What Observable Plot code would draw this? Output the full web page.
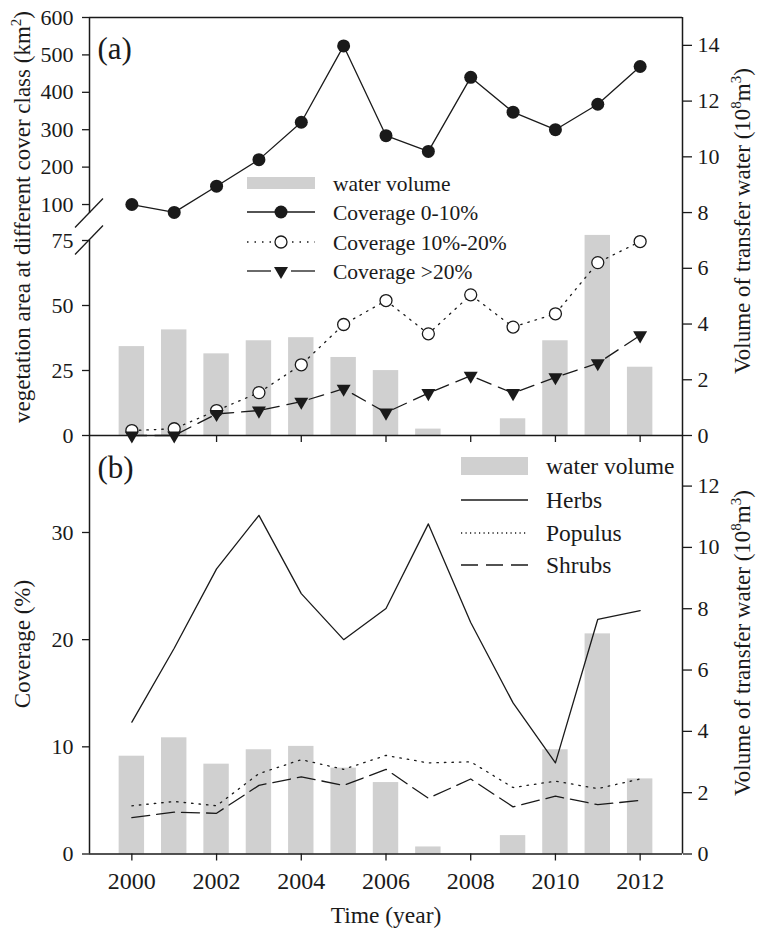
<!DOCTYPE html>
<html>
<head>
<meta charset="utf-8">
<script src="https://cdn.jsdelivr.net/npm/d3@7"></script>
<script src="https://cdn.jsdelivr.net/npm/@observablehq/plot@0.6"></script>
<style>
  html, body { margin: 0; padding: 0; background: #fff; }
  #chart { position: relative; width: 775px; height: 931px; background: #fff; }
  #chart > svg { position: absolute; left: 0; top: 0; }
</style>
</head>
<body>
<div id="chart"></div>
<script>
// ---------- data ----------
const years = [2000, 2001, 2002, 2003, 2004, 2005, 2006, 2007, 2008, 2009, 2010, 2011, 2012];
// volume of transfer water (10^8 m^3)
const waterVolume = [3.19, 3.79, 2.93, 3.40, 3.51, 2.80, 2.33, 0.23, 0, 0.60, 3.40, 7.18, 2.45];
// panel (a): vegetation area at different cover class (km^2)
const coverage0to10 = [100, 79, 149, 220, 320, 524, 284, 242, 440, 347, 300, 368, 469];
const coverage10to20 = [1.9, 2.6, 9.6, 16.5, 27.2, 42.7, 51.9, 39.1, 54.1, 41.7, 46.8, 66.5, 74.6];
const coverageOver20 = [0, 0, 8.3, 9.6, 13.0, 18.0, 8.8, 16.3, 23.0, 16.3, 22.4, 27.8, 38.5];
// panel (b): coverage (%)
const herbs = [12.3, 19.2, 26.6, 31.6, 24.3, 20.0, 22.9, 30.8, 21.6, 14.1, 8.5, 21.9, 22.7];
const populus = [4.5, 4.9, 4.5, 7.5, 8.8, 7.9, 9.2, 8.5, 8.6, 6.2, 6.8, 6.1, 7.0];
const shrubs = [3.4, 3.9, 3.8, 6.4, 7.2, 6.4, 7.9, 5.2, 7.0, 4.4, 5.4, 4.6, 5.0];

// ticks
const xTicks = [2000, 2002, 2004, 2006, 2008, 2010, 2012];
const leftTicksA = [0, 25, 50, 75, 100, 200, 300, 400, 500, 600];
const rightTicksA = [0, 2, 4, 6, 8, 10, 12, 14];
const leftTicksB = [0, 10, 20, 30];
const rightTicksB = [0, 2, 4, 6, 8, 10, 12];

// labels
const legendA = ["water volume", "Coverage 0-10%", "Coverage 10%-20%", "Coverage >20%"];
const legendB = ["water volume", "Herbs", "Populus", "Shrubs"];

// ---------- style ----------
const FONT = '"Liberation Serif", "Times New Roman", Times, serif';
const INK = "#1a1a1a";
const BAR = "#d0d0d0";
const W = 775, H = 931;
const LW = 1.3;

const rows = years.map((year, i) => ({
  year,
  water: waterVolume[i],
  c1: coverage0to10[i],
  c2: coverage10to20[i],
  c3: coverageOver20[i],
  herbs: herbs[i],
  populus: populus[i],
  shrubs: shrubs[i]
}));

const base = {
  width: W, height: H, marginLeft: 89, marginRight: 93,
  style: {background: "transparent", fontFamily: FONT, color: INK, overflow: "visible"}
};
const xScale = {domain: [1999, 2013], axis: null};
const halfBar = 0.3;
const fmt = d3.format("d");

// axis break marks drawn with the y scale at the break boundaries
function breakMarks(index, scales) {
  const g = d3.create("svg:g").attr("stroke", INK).attr("stroke-width", LW);
  const x0 = scales.x(1999);
  for (const v of [75, 76]) {
    const y0 = scales.y(v);
    g.append("line").attr("x1", x0 - 14).attr("y1", y0 + 14.5).attr("x2", x0 + 14).attr("y2", y0 - 14.5);
  }
  return g.node();
}

// ---------- panel (a) bars + right axis ----------
const aBars = Plot.plot({
  ...base, marginTop: 17, marginBottom: 496,
  x: xScale, y: {domain: [0, 15], axis: null},
  marks: [
    Plot.rect(rows, {x1: d => d.year - halfBar, x2: d => d.year + halfBar, y1: 0, y2: "water", fill: BAR}),
    Plot.ruleX([2013], {stroke: INK, strokeWidth: 1.5}),
    Plot.axisY({anchor: "right", ticks: rightTicksA, tickSize: 9, tickPadding: 6, fontSize: 22, label: null, tickFormat: fmt, strokeWidth: 1.3})
  ]
});

// ---------- panel (a) lines + left broken axis ----------
const aLines = Plot.plot({
  ...base, marginTop: 17, marginBottom: 496,
  x: xScale,
  y: {type: "linear", domain: [0, 75, 76, 600], range: [435, 240, 213, 17], axis: null},
  marks: [
    Plot.ruleY([600], {stroke: INK, strokeWidth: 1.5}),
    Plot.ruleY([0], {stroke: INK, strokeWidth: 1.5}),
    Plot.ruleX([{from: 0, to: 75}, {from: 76, to: 600}], {x: 1999, y1: "from", y2: "to", stroke: INK, strokeWidth: 1.5}),
    breakMarks,
    Plot.axisY({anchor: "left", ticks: leftTicksA, tickSize: 7, tickPadding: 9, fontSize: 22, label: null, tickFormat: fmt, strokeWidth: 1.3}),
    Plot.axisX({anchor: "bottom", ticks: xTicks, tickSize: 7, tickFormat: () => "", label: null, strokeWidth: 1.3}),
    Plot.line(rows, {x: "year", y: "c1", stroke: INK, strokeWidth: LW}),
    Plot.line(rows, {x: "year", y: "c2", stroke: INK, strokeWidth: LW, strokeDasharray: "1.5,6"}),
    Plot.line(rows, {x: "year", y: "c3", stroke: INK, strokeWidth: LW, strokeDasharray: "15,8"}),
    Plot.dot(rows, {x: "year", y: "c1", r: 6.5, fill: INK}),
    Plot.dot(rows, {x: "year", y: "c2", r: 6, fill: "white", stroke: INK, strokeWidth: LW}),
    Plot.dot(rows, {x: "year", y: "c3", symbol: "triangle", rotate: 180, r: 5.2, fill: INK}),
    Plot.text(["(a)"], {frameAnchor: "top-left", dx: 8, dy: 41, fontSize: 31, textAnchor: "start", lineAnchor: "bottom", fill: INK})
  ]
});

// ---------- panel (b) bars + right axis ----------
const bBars = Plot.plot({
  ...base, marginTop: 435, marginBottom: 77.5,
  x: xScale, y: {domain: [0, 13.65], axis: null},
  marks: [
    Plot.rect(rows, {x1: d => d.year - halfBar, x2: d => d.year + halfBar, y1: 0, y2: "water", fill: BAR}),
    Plot.ruleX([2013], {stroke: INK, strokeWidth: 1.5}),
    Plot.axisY({anchor: "right", ticks: rightTicksB, tickSize: 9, tickPadding: 6, fontSize: 22, label: null, tickFormat: fmt, strokeWidth: 1.3})
  ]
});

// ---------- panel (b) lines + left axis + x axis ----------
const bLines = Plot.plot({
  ...base, marginTop: 435, marginBottom: 77.5,
  x: xScale, y: {domain: [0, 39.05], axis: null},
  marks: [
    Plot.ruleX([1999], {stroke: INK, strokeWidth: 1.5}),
    Plot.ruleY([0], {stroke: INK, strokeWidth: 1.5}),
    Plot.axisY({anchor: "left", ticks: leftTicksB, tickSize: 7, tickPadding: 9, fontSize: 22, label: null, tickFormat: fmt, strokeWidth: 1.3}),
    Plot.axisX({anchor: "bottom", ticks: xTicks, tickSize: 7, tickPadding: 11, fontSize: 24, label: null, tickFormat: fmt, strokeWidth: 1.3}),
    Plot.line(rows, {x: "year", y: "herbs", stroke: INK, strokeWidth: LW}),
    Plot.line(rows, {x: "year", y: "populus", stroke: INK, strokeWidth: LW, strokeDasharray: "1.5,6"}),
    Plot.line(rows, {x: "year", y: "shrubs", stroke: INK, strokeWidth: LW, strokeDasharray: "18,7"}),
    Plot.text(["(b)"], {frameAnchor: "top-left", dx: 8, dy: 42, fontSize: 31, textAnchor: "start", lineAnchor: "bottom", fill: INK})
  ]
});

const chart = document.getElementById("chart");
for (const p of [aBars, aLines, bBars, bLines]) chart.appendChild(p);

// ---------- axis titles and legends ----------
const ov = d3.create("svg").attr("width", W).attr("height", H)
  .style("font-family", FONT).attr("fill", INK).style("overflow", "visible");

function volTitle(cx, cy) {
  const t = ov.append("text").attr("transform", `translate(${cx},${cy}) rotate(-90)`)
    .attr("text-anchor", "middle").attr("font-size", 23);
  t.append("tspan").text("Volume of transfer water (10");
  t.append("tspan").attr("dy", -9).attr("font-size", 15).text("8");
  t.append("tspan").attr("dy", 9).text("m");
  t.append("tspan").attr("dy", -9).attr("font-size", 15).text("3");
  t.append("tspan").attr("dy", 9).text(")");
}
{
  const t = ov.append("text").attr("transform", `translate(30,217) rotate(-90)`)
    .attr("text-anchor", "middle").attr("font-size", 23);
  t.append("tspan").text("vegetation area at different cover class (km");
  t.append("tspan").attr("dy", -9).attr("font-size", 15).text("2");
  t.append("tspan").attr("dy", 9).text(")");
}
ov.append("text").attr("transform", `translate(30,644) rotate(-90)`)
  .attr("text-anchor", "middle").attr("font-size", 23).text("Coverage (%)");
volTitle(750, 221);
volTitle(750, 643);
ov.append("text").attr("x", 386).attr("y", 923).attr("text-anchor", "middle").attr("font-size", 23.5).text("Time (year)");

// legend (a)
{
  const x0 = 247, x1 = 315, xm = 281, tx = 333, ys = [183, 212, 242, 271];
  const g = ov.append("g");
  g.append("rect").attr("x", x0).attr("y", ys[0] - 6).attr("width", x1 - x0).attr("height", 12).attr("fill", BAR);
  g.append("line").attr("x1", x0).attr("x2", x1).attr("y1", ys[1]).attr("y2", ys[1]).attr("stroke", INK).attr("stroke-width", LW);
  g.append("circle").attr("cx", xm).attr("cy", ys[1]).attr("r", 6.5).attr("fill", INK);
  g.append("line").attr("x1", x0).attr("x2", x1).attr("y1", ys[2]).attr("y2", ys[2]).attr("stroke", INK).attr("stroke-width", LW).attr("stroke-dasharray", "1.5,6");
  g.append("circle").attr("cx", xm).attr("cy", ys[2]).attr("r", 6).attr("fill", "white").attr("stroke", INK).attr("stroke-width", LW);
  g.append("line").attr("x1", x0).attr("x2", xm - 10).attr("y1", ys[3]).attr("y2", ys[3]).attr("stroke", INK).attr("stroke-width", LW);
  g.append("line").attr("x1", xm + 10).attr("x2", x1).attr("y1", ys[3]).attr("y2", ys[3]).attr("stroke", INK).attr("stroke-width", LW);
  g.append("path").attr("d", d3.symbol(d3.symbolTriangle, Math.PI * 5.2 * 5.2)()).attr("transform", `translate(${xm},${ys[3]}) rotate(180)`).attr("fill", INK);
  legendA.forEach((s, i) => g.append("text").attr("x", tx).attr("y", ys[i] + 7.5).attr("font-size", 21.5).text(s));
}
// legend (b)
{
  const x0 = 461, x1 = 528, tx = 546, ys = [466, 500, 533, 565];
  const g = ov.append("g");
  g.append("rect").attr("x", x0).attr("y", ys[0] - 9).attr("width", x1 - x0).attr("height", 18).attr("fill", BAR);
  g.append("line").attr("x1", x0).attr("x2", x1).attr("y1", ys[1]).attr("y2", ys[1]).attr("stroke", INK).attr("stroke-width", LW);
  g.append("line").attr("x1", x0).attr("x2", x1).attr("y1", ys[2]).attr("y2", ys[2]).attr("stroke", INK).attr("stroke-width", LW).attr("stroke-dasharray", "1.2,3.3");
  g.append("line").attr("x1", x0).attr("x2", x1).attr("y1", ys[3]).attr("y2", ys[3]).attr("stroke", INK).attr("stroke-width", LW).attr("stroke-dasharray", "17,8");
  legendB.forEach((s, i) => g.append("text").attr("x", tx).attr("y", ys[i] + 8).attr("font-size", 23.5).text(s));
}
chart.appendChild(ov.node());
</script>
</body>
</html>
